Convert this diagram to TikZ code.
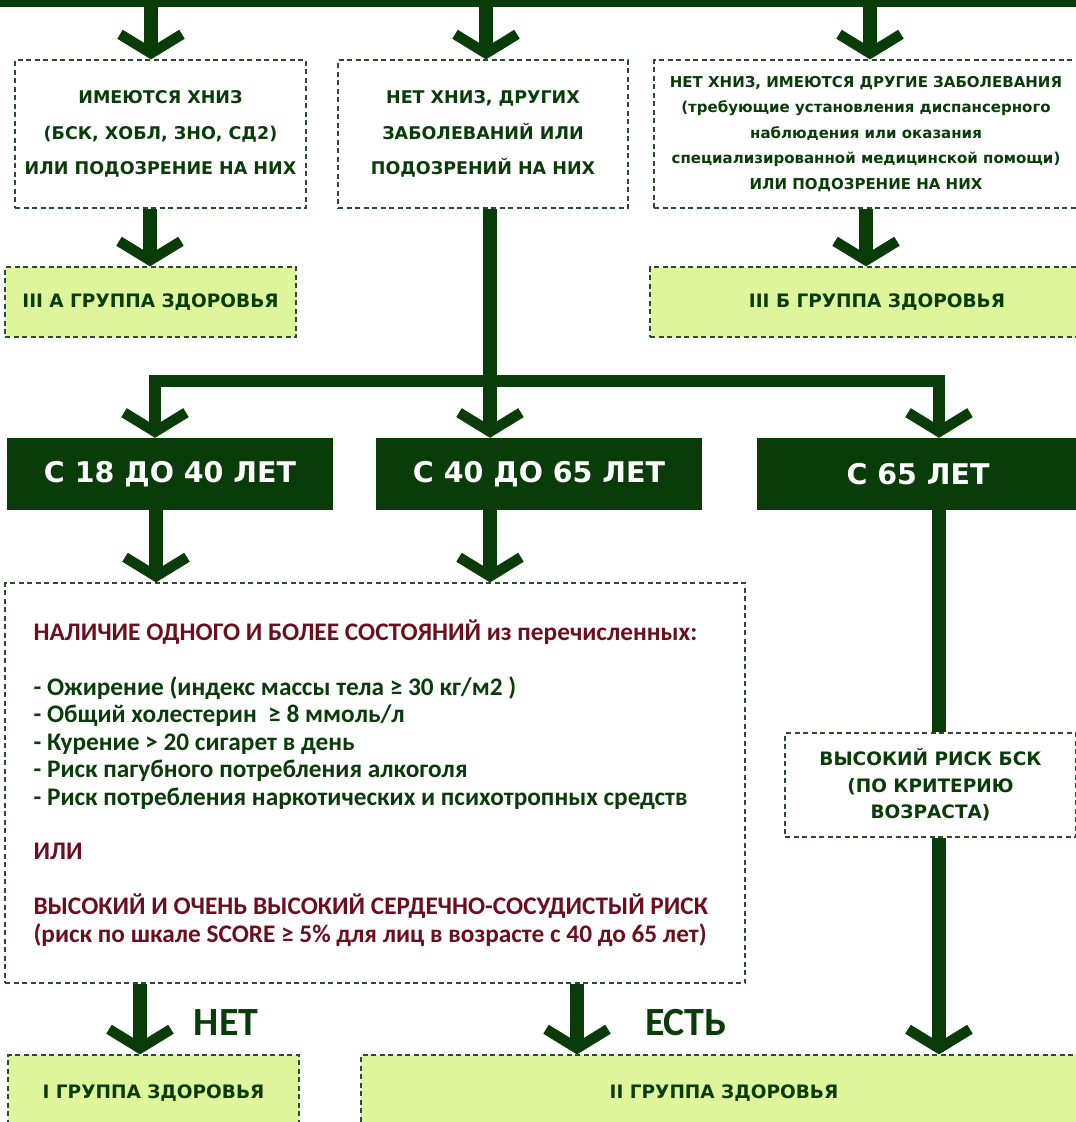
\documentclass[tikz,border=0pt]{standalone}
\usepackage{fontspec}
\setmainfont{DejaVu Sans}
\newfontfamily\calfont{Carlito}
\usetikzlibrary{arrows.meta}
\definecolor{dg}{HTML}{0A3C0A}
\definecolor{lg}{HTML}{DFF59C}
\definecolor{dred}{HTML}{6B0F1F}
\definecolor{bordc}{HTML}{2E4A2E}
\tikzset{
  dbox/.style={draw=bordc, dash pattern=on 5pt off 3.5pt, line width=1.2pt, fill=white,
    text=dg, align=center, inner sep=0pt, anchor=center},
  gbox/.style={dbox, fill=lg, font=\bfseries\fontsize{18.5}{22}\selectfont},
  abox/.style={fill=dg, text=white, inner sep=0pt, anchor=center,
    font=\bfseries\fontsize{28.5}{29}\selectfont},
  shaft/.style={draw=dg, line width=14pt},
  arr/.style={draw=dg, line width=14pt, -{Straight Barb[length=19pt,width=62pt,line width=10.5pt]}},
  lbl/.style={text=dg, font=\calfont\bfseries\fontsize{40}{40}\selectfont, inner sep=0pt},
}
\begin{document}
\begin{tikzpicture}[x=1pt,y=-1pt]
\useasboundingbox (0,0) rectangle (1076,1122);
% top bar
\node[fill=dg, minimum width=1090pt, minimum height=7pt, inner sep=0pt] (topbar) at (538,3.5) {};
% first row boxes
\node[dbox, minimum width=291pt, minimum height=148pt,
  font=\bfseries\fontsize{17.5}{35.5}\selectfont] (b1) at (160.5,134)
  {ИМЕЮТСЯ ХНИЗ\\(БСК, ХОБЛ, ЗНО, СД2)\\ИЛИ ПОДОЗРЕНИЕ НА НИХ};
\node[dbox, minimum width=290pt, minimum height=148pt,
  font=\bfseries\fontsize{17.5}{35.5}\selectfont] (b2) at (483,134)
  {НЕТ ХНИЗ, ДРУГИХ\\ЗАБОЛЕВАНИЙ ИЛИ\\ПОДОЗРЕНИЙ НА НИХ};
\node[dbox, minimum width=424pt, minimum height=148pt,
  font=\bfseries\fontsize{15}{25.5}\selectfont] (b3) at (866,134)
  {НЕТ ХНИЗ, ИМЕЮТСЯ ДРУГИЕ ЗАБОЛЕВАНИЯ\\(требующие установления диспансерного\\наблюдения или оказания\\специализированной медицинской помощи)\\ИЛИ ПОДОЗРЕНИЕ НА НИХ};
% III groups
\node[gbox, minimum width=291pt, minimum height=70pt] (g3a) at (150.5,302) {III А ГРУППА ЗДОРОВЬЯ};
\node[gbox, minimum width=454pt, minimum height=70pt] (g3b) at (877,302) {III Б ГРУППА ЗДОРОВЬЯ};
% age boxes
\node[abox, minimum width=326pt, minimum height=72pt] (age1) at (170,474) {С 18 ДО 40 ЛЕТ};
\node[abox, minimum width=326pt, minimum height=72pt] (age2) at (539,474) {С 40 ДО 65 ЛЕТ};
\node[abox, minimum width=322pt, minimum height=72pt] (age3) at (918,474) {С 65 ЛЕТ};
% criteria box
\node[dbox, minimum width=740pt, minimum height=400pt] (crit) at (375,783) {};
\node[anchor=west, align=left, inner sep=0pt, text=dg,
  font=\calfont\bfseries\fontsize{25.3}{27.45}\selectfont] (crittext) at ([xshift=29pt]crit.west)
  {\textcolor{dred}{НАЛИЧИЕ ОДНОГО И БОЛЕЕ СОСТОЯНИЙ из перечисленных:}\\[27.45pt]
   - Ожирение (индекс массы тела ≥ 30 кг/м2 )\\
   - Общий холестерин \ ≥ 8 ммоль/л\\
   - Курение > 20 сигарет в день\\
   - Риск пагубного потребления алкоголя\\
   - Риск потребления наркотических и психотропных средств\\[27.45pt]
   \textcolor{dred}{ИЛИ}\\[27.45pt]
   \textcolor{dred}{ВЫСОКИЙ И ОЧЕНЬ ВЫСОКИЙ СЕРДЕЧНО-СОСУДИСТЫЙ РИСК}\\
   \textcolor{dred}{(риск по шкале SCORE ≥ 5\% для лиц в возрасте с 40 до 65 лет)}};
% risk box
\node[dbox, minimum width=291pt, minimum height=104pt,
  font=\bfseries\fontsize{18.5}{26.5}\selectfont] (risk) at (930.5,785)
  {ВЫСОКИЙ РИСК БСК\\(ПО КРИТЕРИЮ\\ВОЗРАСТА)};
% groups I and II
\node[gbox, minimum width=291pt, minimum height=76pt] (g1) at (153.5,1093) {I ГРУППА ЗДОРОВЬЯ};
\node[gbox, minimum width=726pt, minimum height=76pt] (g2) at (724,1093) {II ГРУППА ЗДОРОВЬЯ};
% labels
\node[lbl] (net) at (226,1023) {НЕТ};
\node[lbl] (est) at (686,1023) {ЕСТЬ};
% coordinates
\coordinate (t1) at (151,0);
\coordinate (t2) at (486,0);
\coordinate (t3) at (870,0);
\coordinate (jM) at (490,381);
\coordinate (jL) at (155,381);
\coordinate (jR) at (939,381);
% connectors
\draw[arr] (t1) -- (t1 |- b1.north);
\draw[arr] (t2) -- (t2 |- b2.north);
\draw[arr] (t3) -- (t3 |- b3.north);
\draw[arr] (b1.south -| 150,0) -- (g3a.north -| 150,0);
\draw[arr] (b3.south -| 866,0) -- (g3b.north -| 866,0);
\draw[arr] (b2.south -| jM) -- (age2.north -| jM);
\draw[arr, line width=12pt] (jM) -| (age1.north -| jL);
\draw[arr, line width=12pt] (jM) -| (age3.north -| jR);
\draw[arr] (age1.south -| 156,0) -- (crit.north -| 156,0);
\draw[arr] (age2.south -| jM) -- (crit.north -| jM);
\draw[shaft] (age3.south -| jR) -- (risk.north -| jR);
\draw[arr] (risk.south -| jR) -- (g2.north -| jR);
\draw[arr] (crit.south -| 140,0) -- (g1.north -| 140,0);
\draw[arr] (crit.south -| 577,0) -- (g2.north -| 577,0);
\end{tikzpicture}
\end{document}
